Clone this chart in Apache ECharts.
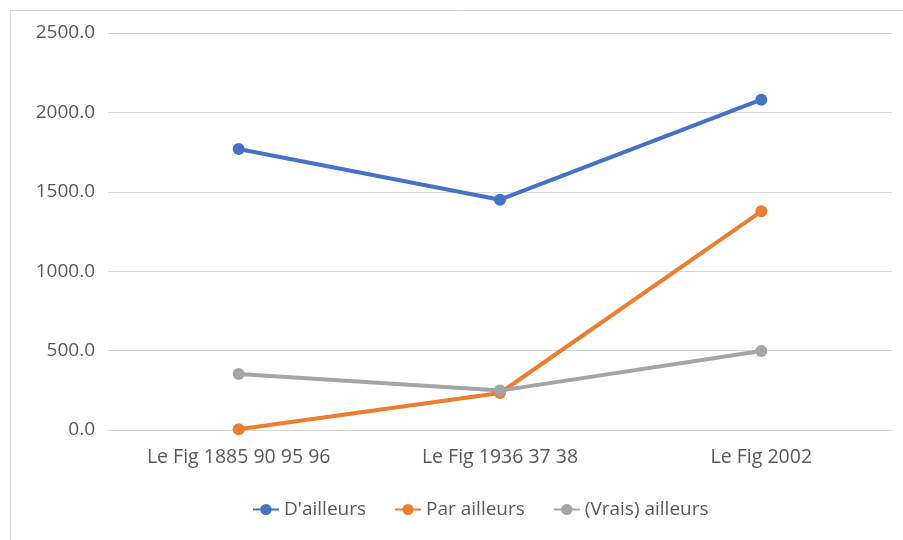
<!DOCTYPE html>
<html>
<head>
<meta charset="utf-8">
<script src="https://cdn.jsdelivr.net/npm/echarts@6/dist/echarts.min.js"></script>
<style>
  html, body { margin: 0; padding: 0; background: #fff; }
  #chart { width: 903px; height: 540px; }
</style>
</head>
<body>
<div id="chart"></div>
<script>
// données
const categories = ['Le Fig 1885 90 95 96', 'Le Fig 1936 37 38', 'Le Fig 2002'];
const dailleurs = [1770, 1450, 2080];
const parAilleurs = [5, 233, 1377];
const vraisAilleurs = [352, 248, 497];
const seriesNames = ["D'ailleurs", 'Par ailleurs', '(Vrais) ailleurs'];
const colors = ['#4472C4', '#ED7D31', '#A5A5A5'];

const chart = echarts.init(document.getElementById('chart'));

function lineSerie(name, data, color) {
  return {
    name: name,
    type: 'line',
    data: data,
    symbol: 'circle',
    symbolSize: 12,
    lineStyle: { width: 4, color: color },
    itemStyle: { color: color },
    animation: false
  };
}

const option = {
  textStyle: { fontFamily: 'Open Sans', color: '#595959' },
  graphic: [{
    type: 'rect',
    // cadre de la zone du graphique (seuls les bords haut et gauche sont visibles)
    shape: { x: 10.5, y: 10.5, width: 1000, height: 1000 },
    style: { fill: 'none', stroke: '#D9D9D9', lineWidth: 1 },
    silent: true
  }],
  grid: { left: 108, right: 11, top: 33, bottom: 110 },
  xAxis: {
    type: 'category',
    data: categories,
    boundaryGap: true,
    axisLine: { show: true, lineStyle: { color: '#D9D9D9', width: 1 } },
    axisTick: { show: false },
    axisLabel: { color: '#595959', fontSize: 19.5, margin: 17 }
  },
  yAxis: {
    type: 'value',
    min: 0,
    max: 2500,
    interval: 500,
    axisLine: { show: false },
    axisTick: { show: false },
    splitLine: { lineStyle: { color: '#D9D9D9', width: 1 } },
    axisLabel: {
      color: '#595959', fontSize: 19, margin: 13,
      formatter: v => v.toFixed(1)
    }
  },
  legend: {
    data: seriesNames,
    top: 495,
    left: 247,
    itemWidth: 26,
    itemHeight: 14,
    itemGap: 28,
    textStyle: { color: '#595959', fontSize: 19 }
  },
  series: [
    lineSerie(seriesNames[0], dailleurs, colors[0]),
    lineSerie(seriesNames[1], parAilleurs, colors[1]),
    lineSerie(seriesNames[2], vraisAilleurs, colors[2])
  ]
};

chart.setOption(option);
</script>
</body>
</html>
